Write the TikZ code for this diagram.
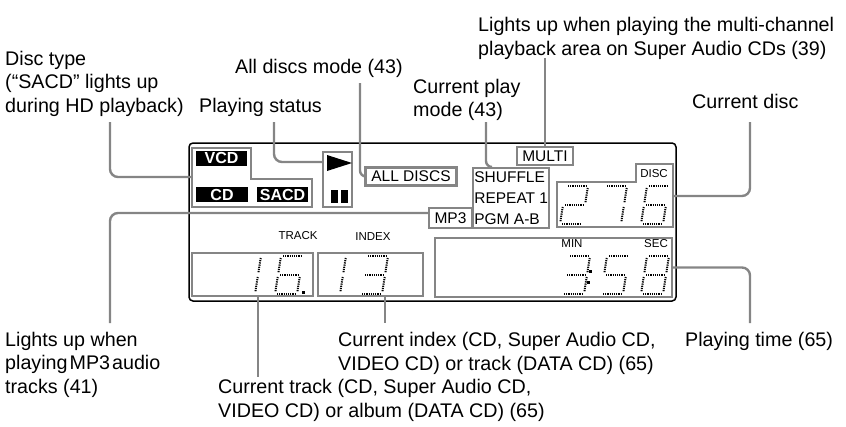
\documentclass[tikz,border=0pt]{standalone}
\usepackage{fontspec}
\setmainfont{Liberation Sans}
\usetikzlibrary{positioning}
\definecolor{leadgray}{gray}{0.52}

% one dotted seven-segment digit: x of lower left, y of top, segment pairs
\newcommand{\lcddigit}[3]{%
  \begin{scope}[shift={(#1,#2)}]
    \coordinate (tl) at (6,0);
    \coordinate (tr) at (28,0);
    \coordinate (ml) at (3,19);
    \coordinate (mr) at (25,19);
    \coordinate (bl) at (0,38);
    \coordinate (br) at (22,38);
    \foreach \p/\q in {#3} \draw[lcdseg] (\p) -- (\q);
  \end{scope}}

\begin{document}
\begin{tikzpicture}[x=1pt, y=-1pt,
    callout/.style={font=\fontsize{19.7}{23.4}\selectfont, align=left, inner sep=0pt, anchor=base west},
    leader/.style={draw=leadgray, line width=2.4pt, rounded corners=8pt},
    gbox/.style={draw=leadgray, line width=2.4pt, inner sep=0pt},
    lcdtext/.style={font=\fontsize{15.5}{21}\selectfont},
    tinytext/.style={font=\fontsize{11.5}{12}\selectfont, inner sep=0pt},
    disclbl/.style={fill=black, text=white, font=\bfseries\fontsize{16}{16}\selectfont, inner sep=0pt, minimum height=15, minimum width=51},
    lcdseg/.style={line width=2pt, dash pattern=on 1.2pt off 1pt, shorten <=2pt, shorten >=2pt}]
    \useasboundingbox (0,0) rectangle (846,426);

    % Display frame
    \draw[line width=1.5pt, rounded corners=4pt] (189,143) rectangle (676,301);

    % Disc type
    \draw[gbox] (192,148) -- (251,148) -- (251,179) -- (312,179) -- (312,207) -- (192,207) -- cycle;
    \coordinate (dtbox-w) at (192,177);
    \node[disclbl] (vcd) at (221.5,158) {VCD};
    \node[disclbl, minimum width=52] (cd) at (222,194.5) {CD};
    \node[disclbl] (sacd) at (282.5,194.5) {SACD};

    % Playing status
    \node[gbox, minimum width=29, minimum height=55] (playbox) at (337.5,179.5) {};
    \fill (327,155) -- (327,171) -- (352,163) -- cycle;
    \fill (331,190) rectangle (338,203);
    \fill (341,190) rectangle (348,203);

    % Mode indicators
    \node[gbox, lcdtext, minimum width=91, minimum height=18] (alldiscs) at (411,176.5) {ALL DISCS};
    \node[gbox, lcdtext, minimum width=56, minimum height=18] (multi) at (545,156) {MULTI};
    \node[gbox, lcdtext, minimum width=43, minimum height=20] (mp3) at (450.5,218) {MP3};
    \node[gbox, lcdtext, align=left, minimum width=76, minimum height=60, anchor=north west] (playmode) at (472,167) {SHUFFLE\\REPEAT 1\\PGM A-B};

    % Disc number
    \draw[gbox] (557,182) -- (636,182) -- (636,164) -- (673,164) -- (673,227) -- (557,227) -- cycle;
    \coordinate (discbox-e) at (673,196);
    \node[tinytext] (disc) at (654,174) {DISC};
    \lcddigit{560}{186}{tl/tr, tr/mr, ml/mr, ml/bl, bl/br}
    \lcddigit{599}{186}{tl/tr, tr/mr, mr/br}
    \lcddigit{641}{186}{tl/tr, tl/ml, ml/mr, ml/bl, mr/br, bl/br}

    % Track and index
    \node[tinytext] (track) at (298,236) {TRACK};
    \node[tinytext] (index) at (373,237) {INDEX};
    \node[gbox, minimum width=121, minimum height=43] (trackbox) at (252.5,274.5) {};
    \node[gbox, minimum width=105, minimum height=43] (idxbox) at (370.5,274.5) {};
    \lcddigit{233}{256}{tr/mr, mr/br}
    \lcddigit{275}{256}{tl/tr, tl/ml, ml/mr, ml/bl, mr/br, bl/br}
    \fill (301.5,290.5) rectangle (304.5,293.5);
    \lcddigit{318}{256}{tr/mr, mr/br}
    \lcddigit{360}{256}{tl/tr, tr/mr, ml/mr, mr/br, bl/br}

    % Playing time
    \node[gbox, minimum width=237, minimum height=59] (timebox) at (553.5,267.5) {};
    \node[tinytext] (min) at (572,244) {MIN};
    \node[tinytext] (sec) at (656,244) {SEC};
    \lcddigit{562}{256}{tl/tr, tr/mr, ml/mr, mr/br, bl/br}
    \fill (589,270) rectangle (592,273);
    \fill (587,281) rectangle (590,284);
    \lcddigit{601}{256}{tl/tr, tl/ml, ml/mr, mr/br, bl/br}
    \lcddigit{641}{256}{tl/tr, tr/mr, mr/br, bl/br, ml/bl, tl/ml, ml/mr}

    % Callouts (base = last line)
    \node[callout] (dtype-lbl) at (5,112) {Disc type\\(“SACD” lights up\\during HD playback)};
    \node[callout] (alldisc-lbl) at (235,73) {All discs mode (43)};
    \node[callout] (status-lbl) at (199,112.5) {Playing status};
    \node[callout] (mode-lbl) at (413,116.5) {Current play\\mode (43)};
    \node[callout] (multi-lbl) at (478,55) {Lights up when playing the multi-channel\\playback area on Super Audio CDs (39)};
    \node[callout] (disc-lbl) at (692,108.5) {Current disc};
    \node[callout] (mp3-lbl) at (5,393) {Lights up when\\playing\hspace{2pt}MP3\hspace{2pt}audio\\tracks (41)};
    \node[callout] (index-lbl) at (338,370) {Current index (CD, Super Audio CD,\\VIDEO CD) or track (DATA CD) (65)};
    \node[callout] (track-lbl) at (218,417) {Current track (CD, Super Audio CD,\\VIDEO CD) or album (DATA CD) (65)};
    \node[callout] (time-lbl) at (685,346) {Playing time (65)};

    % Leaders
    \coordinate (dt-foot) at (110,122);
    \coordinate (ps-foot) at (274,122);
    \coordinate (ad-foot) at (360,83);
    \coordinate (pm-foot) at (486,122);
    \coordinate (mu-foot) at (545,58);
    \coordinate (cd-foot) at (750,122);
    \coordinate (mp-foot) at (110,323);
    \coordinate (trk-foot) at (258,377);
    \coordinate (idx-foot) at (385,323);
    \coordinate (pt-foot) at (750,323);
    \draw[leader] (dt-foot) |- (dtbox-w);
    \draw[leader] (ps-foot) |- ([yshift=17.5pt]playbox.west);
    \draw[leader, rounded corners=6pt] (ad-foot) |- (alldiscs.west);
    \draw[leader, rounded corners=6pt] (pm-foot) |- ([xshift=20pt]playmode.north west);
    \draw[leader] (mu-foot) -- (multi.north);
    \draw[leader] (cd-foot) |- (discbox-e);
    \draw[leader] (mp-foot) |- ([yshift=5pt]mp3.west);
    \draw[leader] (trackbox.south -| trk-foot) -- (trk-foot);
    \draw[leader] (idxbox.south -| idx-foot) -- (idx-foot);
    \draw[leader] (pt-foot) |- (timebox.east);
\end{tikzpicture}
\end{document}
